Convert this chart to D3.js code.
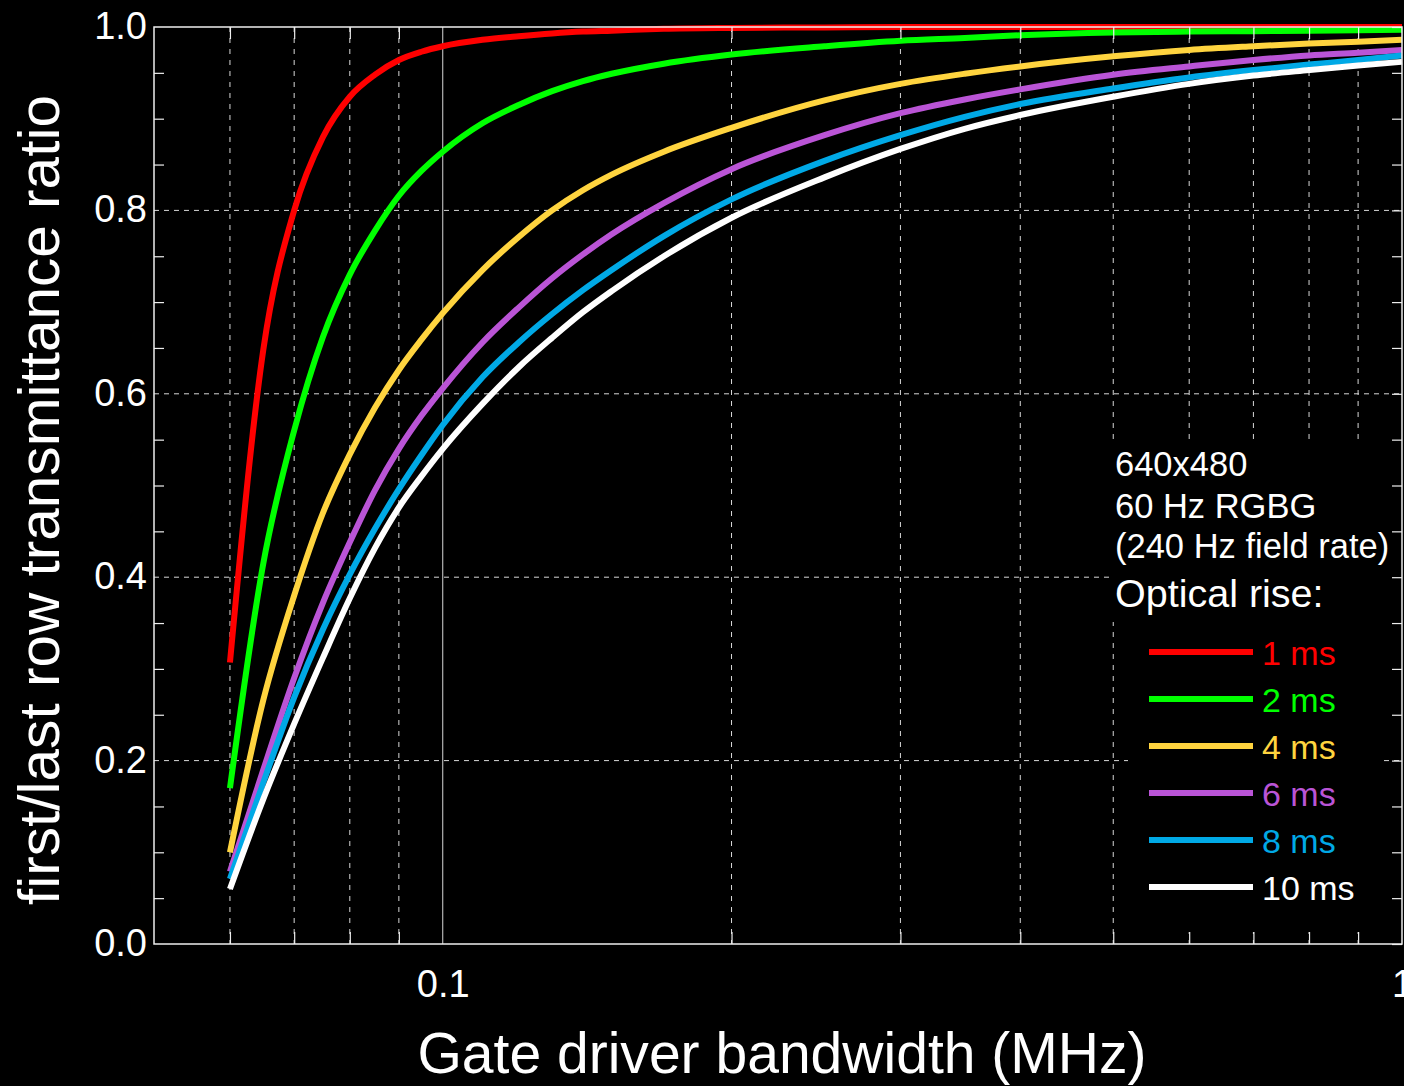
<!DOCTYPE html>
<html>
<head>
<meta charset="utf-8">
<script src="https://cdn.jsdelivr.net/npm/d3@7"></script>
<style>
    body { margin: 0; background: #000; }
    svg { display: block; }
    text { font-family: "Liberation Sans", Arial, sans-serif; fill: #fff; }
</style>
</head>
<body>
<script>

// ================================================================================================
// Data

// Gate driver bandwidth, MHz
var bandwidth = [0.06, 0.065, 0.07, 0.075, 0.08, 0.085, 0.09, 0.095, 0.1, 0.11, 0.12, 0.13, 0.14,
    0.15, 0.17, 0.2, 0.25, 0.3, 0.35, 0.4, 0.5, 0.6, 0.7, 0.8, 0.9, 1.0];

// first/last row transmittance ratio for each optical rise time
var rise_1ms = [0.307, 0.648, 0.800, 0.880, 0.924, 0.948, 0.964, 0.973, 0.979, 0.986, 0.990, 0.993, 0.995,
    0.996, 0.998, 0.999, 0.9995, 1, 1, 1, 1, 1, 1, 1, 1, 1];
var rise_2ms = [0.170, 0.415, 0.560, 0.662, 0.730, 0.778, 0.816, 0.843, 0.864, 0.895, 0.915, 0.930, 0.941,
    0.949, 0.960, 0.970, 0.979, 0.985, 0.988, 0.991, 0.994, 0.995, 0.9955, 0.996, 0.9965, 0.997];
var rise_4ms = [0.100, 0.266, 0.380, 0.470, 0.534, 0.585, 0.626, 0.659, 0.688, 0.735, 0.771, 0.800, 0.822,
    0.839, 0.864, 0.890, 0.920, 0.938, 0.949, 0.957, 0.968, 0.975, 0.979, 0.982, 0.984, 0.986];
var rise_6ms = [0.079, 0.190, 0.290, 0.372, 0.438, 0.495, 0.540, 0.576, 0.606, 0.656, 0.694, 0.726, 0.752,
    0.774, 0.808, 0.845, 0.882, 0.906, 0.921, 0.932, 0.948, 0.957, 0.964, 0.969, 0.972, 0.975];
var rise_8ms = [0.071, 0.176, 0.269, 0.343, 0.403, 0.453, 0.496, 0.533, 0.566, 0.618, 0.656, 0.687, 0.713,
    0.735, 0.772, 0.812, 0.854, 0.882, 0.902, 0.916, 0.933, 0.945, 0.953, 0.959, 0.964, 0.969];
var rise_10ms = [0.060, 0.158, 0.240, 0.312, 0.377, 0.432, 0.476, 0.510, 0.540, 0.589, 0.629, 0.661, 0.689,
    0.712, 0.750, 0.792, 0.836, 0.867, 0.889, 0.904, 0.924, 0.938, 0.947, 0.953, 0.958, 0.962];

var series_names = ['1 ms', '2 ms', '4 ms', '6 ms', '8 ms', '10 ms'];
var series_values = [rise_1ms, rise_2ms, rise_4ms, rise_6ms, rise_8ms, rise_10ms];
var series_colors = ['#ff0000', '#00ff00', '#ffd43f', '#ba54d6', '#00a9e6', '#ffffff'];

// Axis ticks
var x_major = [0.1, 1];
var x_major_labels = ['0.1', '1'];
var x_minor = [0.06, 0.07, 0.08, 0.09, 0.2, 0.3, 0.4, 0.5, 0.6, 0.7, 0.8, 0.9];
var y_major = [0, 0.2, 0.4, 0.6, 0.8, 1.0];
var y_major_labels = ['0.0', '0.2', '0.4', '0.6', '0.8', '1.0'];
var y_minor = [0.05, 0.1, 0.15, 0.25, 0.3, 0.35, 0.45, 0.5, 0.55, 0.65, 0.7, 0.75, 0.85, 0.9, 0.95];

var info_lines = ['640x480', '60 Hz RGBG', '(240 Hz field rate)'];
var legend_title = 'Optical rise:';

// ================================================================================================
// Chart

(function () {

var width = 1404, height = 1086;
var p_left = 154, p_right = 1402, p_top = 27, p_bottom = 944;

var svg = d3.select('body').append('svg')
    .attr('width', width)
    .attr('height', height);

svg.append('rect')
    .attr('width', width)
    .attr('height', height)
    .attr('fill', '#000');

var x = d3.scaleLog().domain([0.05, 1]).range([p_left, p_right]);
var y = d3.scaleLinear().domain([0, 1]).range([p_bottom, p_top]);

// Grid
var grid = svg.append('g');
grid.selectAll('line.vminor')
    .data(x_minor).enter()
    .append('line')
    .attr('x1', function (d) { return x(d); })
    .attr('x2', function (d) { return x(d); })
    .attr('y1', p_top)
    .attr('y2', p_bottom)
    .attr('stroke', '#d8d8d8')
    .attr('stroke-width', 1)
    .attr('stroke-dasharray', '5,6');

grid.append('line')
    .attr('x1', x(0.1)).attr('x2', x(0.1))
    .attr('y1', p_top).attr('y2', p_bottom)
    .attr('stroke', '#d8d8d8')
    .attr('stroke-width', 1);

grid.selectAll('line.hmajor')
    .data(y_major.filter(function (d) { return d > 0 && d < 1; })).enter()
    .append('line')
    .attr('x1', p_left)
    .attr('x2', p_right)
    .attr('y1', function (d) { return y(d); })
    .attr('y2', function (d) { return y(d); })
    .attr('stroke', '#d8d8d8')
    .attr('stroke-width', 1)
    .attr('stroke-dasharray', '5,5');

// Legend backgrounds hide the grid behind the text
svg.append('rect')
    .attr('x', 1112).attr('y', 442)
    .attr('width', p_right - 1112).attr('height', 180)
    .attr('fill', '#000');
svg.append('rect')
    .attr('x', 1128).attr('y', 622)
    .attr('width', 1381 - 1128).attr('height', 932 - 622)
    .attr('fill', '#000');

// Curves
var line = d3.line()
    .x(function (d) { return x(d[0]); })
    .y(function (d) { return y(d[1]); })
    .curve(d3.curveMonotoneX);

series_values.forEach(function (values, i) {
    var points = bandwidth.map(function (b, j) { return [b, values[j]]; });
    svg.append('path')
        .datum(points)
        .attr('d', line)
        .attr('fill', 'none')
        .attr('stroke', series_colors[i])
        .attr('stroke-width', 6)
        .attr('stroke-linejoin', 'round');
});

// Frame
svg.append('rect')
    .attr('x', p_left).attr('y', p_top)
    .attr('width', p_right - p_left).attr('height', p_bottom - p_top)
    .attr('fill', 'none')
    .attr('stroke', '#eeeeee')
    .attr('stroke-width', 1.5);

// Inner ticks on all four sides
function clean(g) {
    g.select('.domain').remove();
    g.selectAll('line').attr('stroke', '#eeeeee').attr('stroke-width', 1.2);
}

svg.append('g')
    .attr('transform', 'translate(0,' + p_bottom + ')')
    .call(d3.axisBottom(x).tickValues(x_minor).tickSize(-12).tickFormat(''))
    .call(clean);
svg.append('g')
    .attr('transform', 'translate(0,' + p_top + ')')
    .call(d3.axisTop(x).tickValues(x_minor).tickSize(-12).tickFormat(''))
    .call(clean);
svg.append('g')
    .attr('transform', 'translate(' + p_left + ',0)')
    .call(d3.axisLeft(y).tickValues(y_minor).tickSize(-10).tickFormat(''))
    .call(clean);
svg.append('g')
    .attr('transform', 'translate(' + p_right + ',0)')
    .call(d3.axisRight(y).tickValues(y_minor.concat(y_major)).tickSize(-10).tickFormat(''))
    .call(clean);

// Tick labels
var x_axis = svg.append('g')
    .attr('transform', 'translate(0,' + p_bottom + ')')
    .call(d3.axisBottom(x).tickValues(x_major).tickSize(0).tickPadding(26)
        .tickFormat(function (d, i) { return x_major_labels[i]; }));
x_axis.select('.domain').remove();
x_axis.selectAll('text')
    .attr('fill', '#fff')
    .style('font-size', '38px')
    .style('font-family', '"Liberation Sans", Arial, sans-serif');

var y_axis = svg.append('g')
    .attr('transform', 'translate(' + p_left + ',0)')
    .call(d3.axisLeft(y).tickValues(y_major).tickSize(0).tickPadding(7)
        .tickFormat(function (d, i) { return y_major_labels[i]; }));
y_axis.select('.domain').remove();
y_axis.selectAll('text')
    .attr('fill', '#fff')
    .attr('dy', '0.3em')
    .style('font-size', '38px')
    .style('font-family', '"Liberation Sans", Arial, sans-serif');

// Axis titles
svg.append('text')
    .attr('x', 782)
    .attr('y', 1073)
    .attr('text-anchor', 'middle')
    .attr('textLength', 729)
    .attr('lengthAdjust', 'spacingAndGlyphs')
    .style('font-size', '57px')
    .text('Gate driver bandwidth (MHz)');

svg.append('text')
    .attr('transform', 'translate(59,500) rotate(-90)')
    .attr('text-anchor', 'middle')
    .attr('textLength', 810)
    .attr('lengthAdjust', 'spacingAndGlyphs')
    .style('font-size', '58px')
    .text('first/last row transmittance ratio');

// Legend
var info_y = [476, 518, 558];
svg.selectAll('text.info')
    .data(info_lines).enter()
    .append('text')
    .attr('x', 1115)
    .attr('y', function (d, i) { return info_y[i]; })
    .style('font-size', '34.5px')
    .text(function (d) { return d; });

svg.append('text')
    .attr('x', 1115)
    .attr('y', 607)
    .style('font-size', '39.5px')
    .text(legend_title);

var legend_y0 = 652, legend_step = 47;
var legend = svg.selectAll('g.legend')
    .data(series_names).enter()
    .append('g')
    .attr('transform', function (d, i) { return 'translate(0,' + (legend_y0 + i * legend_step) + ')'; });

legend.append('line')
    .attr('x1', 1149).attr('x2', 1253)
    .attr('y1', 0).attr('y2', 0)
    .attr('stroke', function (d, i) { return series_colors[i]; })
    .attr('stroke-width', 6);

legend.append('text')
    .attr('x', 1262)
    .attr('y', 13)
    .style('font-size', '34px')
    .style('fill', function (d, i) { return series_colors[i]; })
    .text(function (d) { return d; });

}());

</script>
</body>
</html>
